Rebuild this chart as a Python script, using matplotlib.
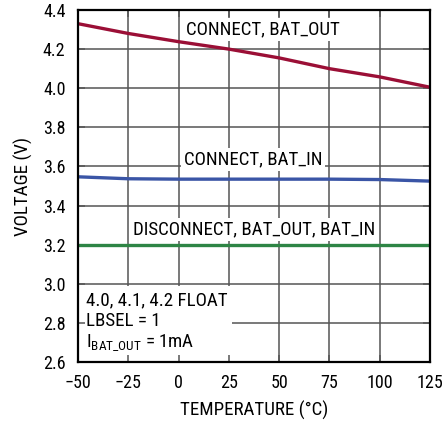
import matplotlib
matplotlib.use("Agg")
import matplotlib.pyplot as plt
from matplotlib.patches import Rectangle

plt.rcParams['font.family'] = ['Roboto Condensed', 'DejaVu Sans']
plt.rcParams['mathtext.fontset'] = 'custom'
plt.rcParams['mathtext.rm'] = 'Roboto Condensed'
plt.rcParams['axes.unicode_minus'] = True

temps = [-50, -25, 0, 25, 50, 75, 100, 125]
bat_out_connect = [4.33, 4.28, 4.238, 4.20, 4.155, 4.10, 4.058, 4.005]
bat_in_connect = [3.547, 3.537, 3.535, 3.535, 3.535, 3.535, 3.533, 3.525]
disconnect = [3.20, 3.20, 3.20, 3.20, 3.20, 3.20, 3.20, 3.20]

x_ticks = [-50, -25, 0, 25, 50, 75, 100, 125]
y_ticks = [2.6, 2.8, 3.0, 3.2, 3.4, 3.6, 3.8, 4.0, 4.2, 4.4]

fig = plt.figure(figsize=(4.42, 4.21), dpi=100)
ax = fig.add_axes([78 / 442, 1 - 362 / 421, 352 / 442, 352 / 421])

ax.set_xlim(-50, 125)
ax.set_ylim(2.6, 4.4)

# grid drawn by hand so the text boxes can sit on top of it
for xv in x_ticks[1:-1]:
    ax.axvline(xv, color='#555555', lw=1.1, zorder=0.5)
for yv in y_ticks[1:-1]:
    ax.axhline(yv, color='#555555', lw=1.1, zorder=0.5)

ax.plot(temps, bat_out_connect, color='#9b0f36', lw=2.4, zorder=3)
ax.plot(temps, bat_in_connect, color='#3a55a6', lw=2.4, zorder=3)
ax.plot(temps, disconnect, color='#2e8545', lw=2.4, zorder=3)

box = dict(facecolor='white', edgecolor='none', pad=2)
fs = 13.6
ax.text(42, 4.30, 'CONNECT, BAT_OUT', ha='center', va='center', fontsize=fs, bbox=box, zorder=2)
ax.text(37, 3.635, 'CONNECT, BAT_IN', ha='center', va='center', fontsize=fs, bbox=box, zorder=2)
ax.text(37.5, 3.277, 'DISCONNECT, BAT_OUT, BAT_IN', ha='center', va='center', fontsize=fs, bbox=box, zorder=2)

ax.add_patch(Rectangle((-50, 2.6), 76.5, 0.39, facecolor='white', edgecolor='none', zorder=2))
ax.text(-46, 2.915, '4.0, 4.1, 4.2 FLOAT', ha='left', va='center', fontsize=fs, zorder=2.2)
ax.text(-46, 2.81, 'LBSEL = 1', ha='left', va='center', fontsize=fs, zorder=2.2)
ax.text(-46, 2.70, r'I$_{\mathregular{BAT\_OUT}}$ = 1mA', ha='left', va='center', fontsize=fs, zorder=2.2)

ax.set_xticks(x_ticks)
ax.set_yticks(y_ticks)
ax.set_yticklabels([f'{v:.1f}' for v in y_ticks])
ax.tick_params(direction='in', length=5, width=1.1, color='#555555', labelsize=13,
               top=True, right=True, pad=9)
ax.set_axisbelow(False)
for s in ax.spines.values():
    s.set_linewidth(1.6)
    s.set_zorder(4)

ax.set_xlabel('TEMPERATURE (°C)', fontsize=fs, labelpad=6)
ax.set_ylabel('VOLTAGE (V)', fontsize=fs, labelpad=7)

fig.savefig('out.png', dpi=100)
